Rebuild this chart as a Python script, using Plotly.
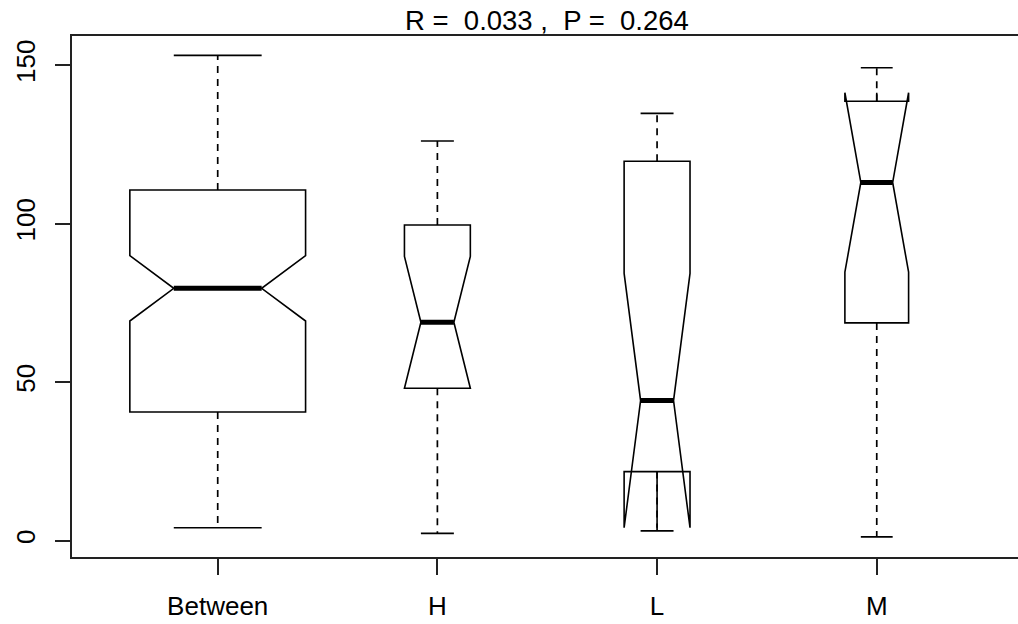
import plotly.graph_objects as go

# ---- data ----
categories = ["Between", "H", "L", "M"]
positions = [1, 2, 3, 4]
box_widths = [0.80, 0.30, 0.30, 0.29]
lower_whisker = [4.1, 2.3, 3.1, 1.2]
q1_vals = [40.6, 48.1, 21.8, 68.7]
medians = [79.6, 68.9, 44.2, 113.0]
q3_vals = [110.6, 99.6, 119.7, 138.6]
upper_whisker = [153.1, 126.1, 134.8, 149.2]
notch_spans = [10.3, 20.8, 40.1, 28.3]
y_ticks = [0, 50, 100, 150]
title_text = "R =\u00a0\u00a00.033\u00a0,\u00a0\u00a0P =\u00a0\u00a00.264"

FONT = "Liberation Sans, Arial, sans-serif"
fig = go.Figure()

for i, cat in enumerate(categories):
    p = positions[i]
    w = box_widths[i]
    # notched box body (no whiskers; drawn separately as dashed lines)
    fig.add_trace(go.Box(
        x=[p], q1=[q1_vals[i]], median=[medians[i]], q3=[q3_vals[i]],
        lowerfence=[q1_vals[i]], upperfence=[q3_vals[i]],
        notchspan=[notch_spans[i]], notched=True, notchwidth=0.25,
        width=w, whiskerwidth=0, boxpoints=False,
        fillcolor="rgba(0,0,0,0)", line=dict(color="black", width=1.6),
        name=cat, showlegend=False, hoverinfo="skip",
    ))
    # dashed whiskers
    fig.add_trace(go.Scatter(
        x=[p, p, None, p, p],
        y=[q3_vals[i], upper_whisker[i], None, q1_vals[i], lower_whisker[i]],
        mode="lines", line=dict(color="black", width=1.7, dash="7px,6px"),
        showlegend=False, hoverinfo="skip",
    ))
    # staples
    fig.add_trace(go.Scatter(
        x=[p - w / 4, p + w / 4, None, p - w / 4, p + w / 4],
        y=[upper_whisker[i], upper_whisker[i], None, lower_whisker[i], lower_whisker[i]],
        mode="lines", line=dict(color="black", width=1.6),
        showlegend=False, hoverinfo="skip",
    ))
    # thick median
    fig.add_trace(go.Scatter(
        x=[p - w / 4, p + w / 4], y=[medians[i], medians[i]],
        mode="lines", line=dict(color="black", width=5),
        showlegend=False, hoverinfo="skip",
    ))

fig.add_annotation(
    text=title_text, xref="x", x=2.5, yref="paper", y=1.0288,
    yanchor="middle", xanchor="center", showarrow=False,
    font=dict(family=FONT, size=27.5, color="black"),
)

fig.update_layout(
    width=1018, height=624,
    margin=dict(l=72, r=0, t=36, b=67),
    paper_bgcolor="white", plot_bgcolor="white",
    font=dict(family=FONT, size=26, color="black"),
    showlegend=False,
)
fig.update_xaxes(
    range=[0.3367, 4.643], tickmode="array", tickvals=positions, ticktext=categories,
    showgrid=False, zeroline=False,
    showline=True, linecolor="#222", linewidth=2, mirror=True,
    ticks="outside", ticklen=16, tickwidth=1.5, tickcolor="#222",
    ticklabelstandoff=9,
    tickfont=dict(family=FONT, size=26, color="black"),
)
fig.update_yaxes(
    range=[-5.14, 159.2], tickmode="array", tickvals=y_ticks,
    showgrid=False, zeroline=False,
    showline=True, linecolor="#222", linewidth=2, mirror=False,
    ticks="outside", ticklen=15, tickwidth=1.5, tickcolor="#222",
    tickangle=-90, ticklabelstandoff=10,
    tickfont=dict(family=FONT, size=26, color="black"),
)

fig.write_html("out.html")
